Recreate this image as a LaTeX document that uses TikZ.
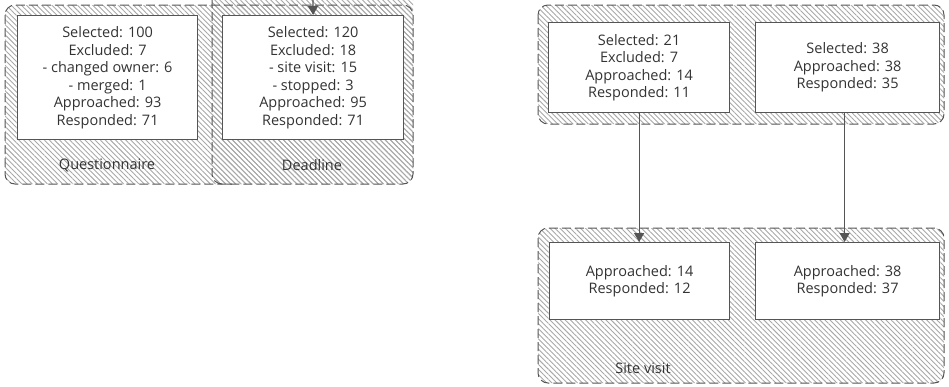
\documentclass[tikz,border=0pt]{standalone}
\usepackage{fontspec}
\setmainfont{Open Sans}
\usetikzlibrary{patterns.meta,arrows.meta}
\definecolor{ln}{HTML}{555555}
\definecolor{hatch}{HTML}{A8A8A8}
\definecolor{txt}{HTML}{333333}
\begin{document}
\begin{tikzpicture}[x=1pt,y=-1pt,
  hatchfill/.style={pattern={Lines[angle=-45,distance=3.6pt,line width=0.9pt]}, pattern color=hatch},
  border/.style={draw=ln, line width=1pt, dash pattern=on 9pt off 4pt, rounded corners=10pt},
  group/.style={border, hatchfill},
  box/.style={draw=ln, line width=1.2pt, fill=white, anchor=north west, align=center,
    text=txt, font=\fontsize{14.5}{17.5}\selectfont, inner sep=0pt},
  lbl/.style={text=txt, font=\fontsize{14.5}{17.5}\selectfont, inner sep=0pt},
  arr/.style={draw=ln, line width=1.2pt, -{Triangle[width=10pt,length=9pt]}}]
\useasboundingbox (0,0) rectangle (949,386);
\clip (0,0) rectangle (949,386);
% groups
\path[hatchfill, rounded corners=10pt] (212,-40) rectangle (413,184);
\path[group] (5,5) rectangle (413,184);
\draw[border] (212,-40) -- (212,184) -- (232,184);
\path[group] (538,5) rectangle (944,124);
\path[group] (538,228) rectangle (944,383);
% boxes
\node[box, minimum width=180pt, minimum height=124pt] (q) at (17,15)
  {Selected: 100\\Excluded: 7\\- changed owner: 6\\- merged: 1\\Approached: 93\\Responded: 71};
\node[box, minimum width=181pt, minimum height=124pt] (d) at (222,15)
  {Selected: 120\\Excluded: 18\\- site visit: 15\\- stopped: 3\\Approached: 95\\Responded: 71};
\node[box, minimum width=181pt, minimum height=90pt] (s1) at (548,22)
  {Selected: 21\\Excluded: 7\\Approached: 14\\Responded: 11};
\node[box, minimum width=184pt, minimum height=90pt] (s2) at (755,22)
  {Selected: 38\\Approached: 38\\Responded: 35};
\node[box, minimum width=180pt, minimum height=77pt] (v1) at (549,242)
  {Approached: 14\\Responded: 12};
\node[box, minimum width=184pt, minimum height=77pt] (v2) at (755,242)
  {Approached: 38\\Responded: 37};
% labels
\node[lbl] (lq) at (107,165) {Questionnaire};
\node[lbl] (ld) at (312,165) {Deadline};
\node[lbl] (lv) at (643,368) {Site visit};
% arrows
\coordinate (src) at (312.5,-40);
\draw[arr] (src) -- (d.north);
\draw[arr] (s1.south) -- (s1.south |- v1.north);
\draw[arr] ([xshift=-3pt]s2.south) -- ([xshift=-3pt]s2.south |- v2.north);
\end{tikzpicture}
\end{document}
